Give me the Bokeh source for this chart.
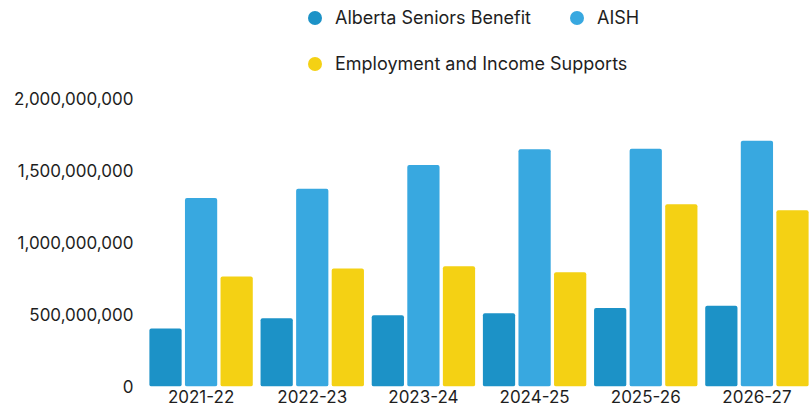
from bokeh.plotting import figure
from bokeh.models import (ColumnDataSource, FactorRange, Range1d, FixedTicker,
                          NumeralTickFormatter, Legend, LegendItem)
from bokeh.transform import dodge
from bokeh.embed import file_html
from bokeh.resources import INLINE

years = ["2021-22", "2022-23", "2023-24", "2024-25", "2025-26", "2026-27"]
seniors_benefit = [403e6, 474e6, 495e6, 509e6, 546e6, 562e6]
aish = [1312e6, 1375e6, 1540e6, 1650e6, 1654e6, 1709e6]
income_supports = [766e6, 820e6, 836e6, 794e6, 1268e6, 1226e6]
series_names = ["Alberta Seniors Benefit", "AISH", "Employment and Income Supports"]
y_ticks = [0, 500e6, 1000e6, 1500e6, 2000e6]

colors = ["#1C92C7", "#38A8E0", "#F4D114"]
FONT = "Inter"
TEXT = "#1e1e1e"

src = ColumnDataSource(dict(year=years, asb=seniors_benefit, aish=aish, eis=income_supports))

# frame spans the whole height; the top part holds the legend
p = figure(x_range=FactorRange(*years, range_padding=0), y_range=Range1d(0, 2.685e9),
           width=812, height=410, output_backend="svg", toolbar_location=None,
           min_border_left=145, min_border_right=0, min_border_top=0, min_border_bottom=24)

bw = 0.29
r1 = p.vbar(x=dodge("year", -0.32, range=p.x_range), top="asb", width=bw, source=src,
            fill_color=colors[0], line_color=None, border_radius=2)
r2 = p.vbar(x=dodge("year", 0.0, range=p.x_range), top="aish", width=bw, source=src,
            fill_color=colors[1], line_color=None, border_radius=2)
r3 = p.vbar(x=dodge("year", 0.32, range=p.x_range), top="eis", width=bw, source=src,
            fill_color=colors[2], line_color=None, border_radius=2)

# legend markers (circles); a single hidden point so the legend can draw the marker
hidden = ColumnDataSource(dict(x=[years[0]], y=[float("nan")]))
m = [p.scatter(x="x", y="y", source=hidden, marker="circle", fill_color=c, line_color=None, size=14)
     for c in colors]

p.xgrid.visible = False
p.ygrid.visible = False
p.outline_line_color = None
p.background_fill_color = "white"
p.border_fill_color = "white"

p.yaxis.ticker = FixedTicker(ticks=y_ticks)
p.yaxis.formatter = NumeralTickFormatter(format="0,0")
for ax in (p.xaxis[0], p.yaxis[0]):
    ax.axis_line_color = None
    ax.major_tick_line_color = None
    ax.minor_tick_line_color = None
    ax.major_tick_out = 0
    ax.major_tick_in = 0
    ax.minor_tick_out = 0
    ax.major_label_text_font = FONT
    ax.major_label_text_font_size = "17px"
    ax.major_label_text_color = TEXT
p.yaxis.major_label_standoff = 12
p.xaxis.major_label_standoff = 3

def mk_legend(items, loc):
    lg = Legend(items=items, location=loc, orientation="horizontal",
                glyph_width=35, glyph_height=35, label_standoff=3, spacing=28,
                padding=0, margin=0, border_line_color=None, background_fill_alpha=0,
                label_text_font=FONT, label_text_font_size="18px", label_text_color=TEXT)
    return lg

lg1 = mk_legend([LegendItem(label=series_names[0], renderers=[m[0]], index=0),
                 LegendItem(label=series_names[1], renderers=[m[1]], index=0)], (152, 351))
lg2 = mk_legend([LegendItem(label=series_names[2], renderers=[m[2]], index=0)], (152, 305))
p.add_layout(lg1, "center")
p.add_layout(lg2, "center")

open("out.html", "w").write(file_html(p, INLINE))
